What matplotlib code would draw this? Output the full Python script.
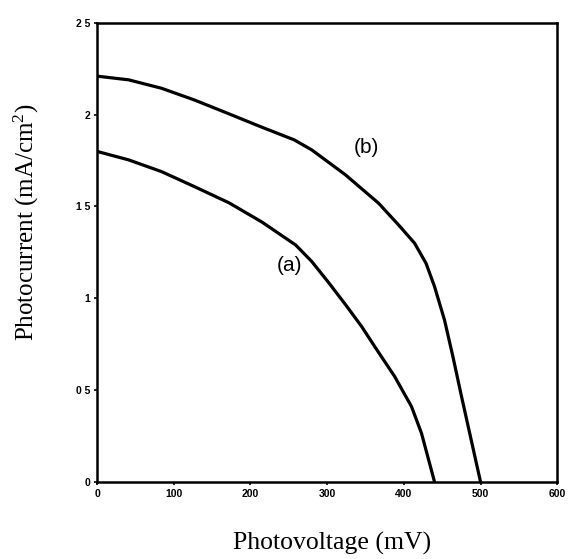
import numpy as np
import matplotlib.pyplot as plt

plt.rcParams["mathtext.fontset"] = "custom"
plt.rcParams["mathtext.rm"] = "Liberation Serif"
plt.rcParams["mathtext.it"] = "Liberation Serif:italic"

# curve (a): photocurrent vs photovoltage
va = [0, 41, 84, 127, 172, 215, 259, 280, 302, 324, 345, 362, 388, 410, 423, 440]
ja = [1.80, 1.754, 1.69, 1.608, 1.52, 1.415, 1.29, 1.20, 1.085, 0.965, 0.846, 0.737, 0.574, 0.41, 0.265, 0.0]

# curve (b)
vb = [0, 41, 84, 127, 170, 213, 257, 280, 324, 367, 393, 414, 429, 440, 453, 464, 475, 500]
jb = [2.21, 2.19, 2.144, 2.08, 2.008, 1.935, 1.863, 1.808, 1.672, 1.518, 1.40, 1.30, 1.19, 1.064, 0.882, 0.682, 0.469, 0.0]

xticks = [0, 100, 200, 300, 400, 500, 600]
yticks = [0, 0.5, 1, 1.5, 2, 2.5]
ylabels = ["0", "0 5", "1", "1 5", "2", "2 5"]

fig = plt.figure(figsize=(5.68, 5.59), dpi=100)
ax = fig.add_axes([0.171, 0.138, 0.810, 0.821])

ax.plot(va, ja, color="black", lw=2.3, solid_joinstyle="round")
ax.plot(vb, jb, color="black", lw=2.3, solid_joinstyle="round")

serif = "Liberation Serif"
ax.text(251, 1.18, "(a)", fontsize=15, family="Liberation Sans", ha="center", va="center")
ax.text(351, 1.82, "(b)", fontsize=15, family="Liberation Sans", ha="center", va="center")

ax.set_xlim(0, 600)
ax.set_ylim(0, 2.5)
ax.set_xticks(xticks)
ax.set_xticklabels([str(t) for t in xticks])
ax.set_yticks(yticks)
ax.set_yticklabels(ylabels)
for lab in ax.get_xticklabels() + ax.get_yticklabels():
    lab.set_family("Liberation Sans")
    lab.set_fontweight("bold")
    lab.set_fontsize(7.5)
ax.tick_params(direction="out", length=2, width=1.2, pad=3)

for s in ax.spines.values():
    s.set_linewidth(1.8)

ax.set_xlabel("Photovoltage (mV)", family=serif, fontsize=18.5)
ax.xaxis.set_label_coords(0.511, -0.108)
ax.set_ylabel("Photocurrent (mA/cm$^2$)", family=serif, fontsize=18)
ax.yaxis.set_label_coords(-0.122, 0.566)

fig.savefig("out.png", dpi=100)
